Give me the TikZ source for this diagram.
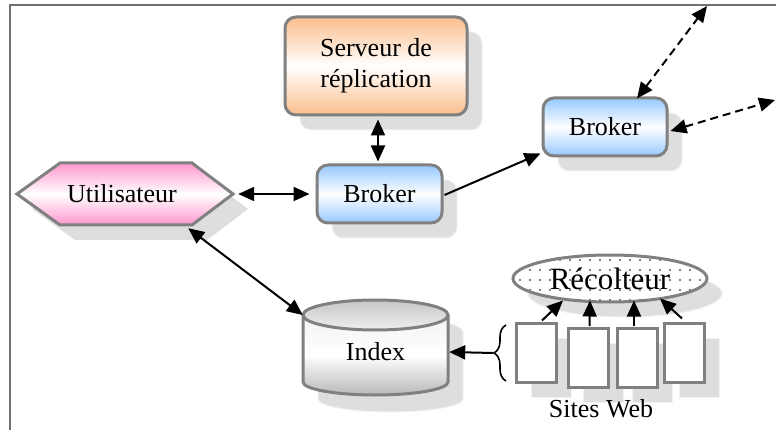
\documentclass[tikz,border=0pt]{standalone}
\usepackage{fontspec}
\setmainfont{Liberation Serif}
\usetikzlibrary{arrows.meta,shapes.geometric,shadows,patterns.meta,decorations.pathreplacing,calc}

\definecolor{edgegray}{RGB}{128,128,128}
\definecolor{shadowgray}{RGB}{222,222,222}
\definecolor{shadowedge}{RGB}{242,242,242}
\definecolor{peach}{RGB}{251,190,140}
\definecolor{rose}{RGB}{255,150,205}
\definecolor{sky}{RGB}{150,200,255}
\definecolor{framegray}{RGB}{112,112,112}

\tikzset{
  txt/.style={font=\fontsize{26}{31}\selectfont, align=center},
  softshadow/.style={drop shadow={shadow xshift=15pt, shadow yshift=-15pt,
      opacity=1, fill=shadowgray, draw=shadowedge, line width=1pt}},
  box/.style={txt, draw=edgegray, line width=3pt, rounded corners=11pt,
      inner sep=0pt, softshadow},
  peachbox/.style={box, top color=peach, bottom color=peach, middle color=white},
  skybox/.style={box, top color=sky, bottom color=sky, middle color=white},
  site/.style={draw=edgegray, line width=3pt, fill=white, minimum width=40pt,
      minimum height=59pt, inner sep=0pt, softshadow},
  harvester/.style={ellipse, draw=edgegray, line width=3pt, minimum width=194pt,
      minimum height=47pt, inner sep=0pt, softshadow, preaction={fill=white},
      pattern={Dots[distance=10pt, radius=1.1pt]}, pattern color=gray!70!black,
      font=\fontsize{31}{36}\selectfont},
  link/.style={line width=2pt, -{Triangle[length=16pt, width=14pt]}},
  twoway/.style={line width=2pt, {Triangle[length=16pt, width=14pt]}-{Triangle[length=16pt, width=14pt]}},
  dashlink/.style={twoway, dash pattern=on 8pt off 5pt},
}

\begin{document}
\begin{tikzpicture}[x=1pt, y=-1pt]
\useasboundingbox (0,0) rectangle (776,430);

% frame
\draw[framegray, line width=2pt] (9.5,430) -- (9.5,5) -- (776,5);

% user hexagon
\def\hexpath{(17,194) -- (60,163) -- (192,163) -- (233,194) -- (192,225) -- (60,225) -- cycle}
\fill[shadowgray, shift={(15,15)}] \hexpath;
\path[draw=edgegray, line width=3pt, line join=miter, top color=rose, bottom color=rose, middle color=white] \hexpath;
\node[txt, minimum width=216pt, minimum height=62pt, inner sep=0pt] (user) at (122,194) {Utilisateur};

% replication server and brokers
\node[peachbox, minimum width=182pt, minimum height=98pt] (serv) at (376,66) {Serveur de\\réplication};
\node[skybox, minimum width=125pt, minimum height=58pt] (b1) at (379.5,194) {Broker};
\node[skybox, minimum width=124pt, minimum height=58pt] (b2) at (605,127) {Broker};

% index cylinder
\fill[shadowgray, draw=shadowedge, line width=1pt] (318,332) -- (318,399)
  arc[start angle=180, end angle=360, x radius=72.5pt, y radius=13pt] -- (463,332)
  arc[start angle=0, end angle=180, x radius=72.5pt, y radius=15pt] -- cycle;
\path[draw=edgegray, line width=3pt, top color=gray!10, bottom color=gray!55, middle color=white]
  (303,315) -- (303,382)
  arc[start angle=180, end angle=360, x radius=72.5pt, y radius=13pt] -- (448,315);
\path[draw=edgegray, line width=3pt, top color=gray!45, bottom color=gray!12]
  (375.5,315) ellipse[x radius=72.5pt, y radius=15pt];
\node[txt, minimum width=145pt, minimum height=60pt, inner sep=0pt] (index) at (375.5,352) {Index};

% harvester and web sites
\node[harvester] (harv) at (610,278.5) {Récolteur};
\node[site] (s1) at (536,352.5) {};
\node[site] (s2) at (588.5,358) {};
\node[site] (s3) at (637,358) {};
\node[site] (s4) at (684,352.5) {};
\node[txt] (web) at (601,409) {Sites Web};

% brace gathering the sites
\draw[line width=1.6pt, decorate, decoration={brace, amplitude=12pt}] (506,381) -- (506,325);
\coordinate (bracetip) at (493,353);

% free ends of the outgoing links
\coordinate (ext1) at (707,6);
\coordinate (ext2) at (775,100);

% connectors
\draw[twoway] ($(user.east)+(8,0)$) -- ($(b1.west)+(-6,0)$);
\draw[twoway] ($(user.south east)+(-42,3)$) -- ($(index.west)+(0,-37)$);
\draw[twoway] ($(serv.south)+(2,3)$) -- ($(b1.north)+(-1.5,-2)$);
\draw[link] ($(b1.east)+(1,1)$) -- ($(b2.south west)+(-1,-4)$);
\draw[dashlink] ($(b2.north)+(32,2)$) -- (ext1);
\draw[dashlink] ($(b2.east)+(2,4)$) -- (ext2);
\draw[link] (bracetip) -- ($(index.east)+(1,0)$);

\draw[link] ($(s1.north)+(6,-1)$) -- ($(harv.center)+(-47,22)$);
\draw[link] ($(s2.north)+(1,-1)$) -- ($(harv.center)+(-20,22)$);
\draw[link] ($(s3.north)+(-3,-1)$) -- ($(harv.center)+(24,22)$);
\draw[link] ($(s4.north)+(-2,-3)$) -- ($(harv.center)+(50,20)$);
\end{tikzpicture}
\end{document}
